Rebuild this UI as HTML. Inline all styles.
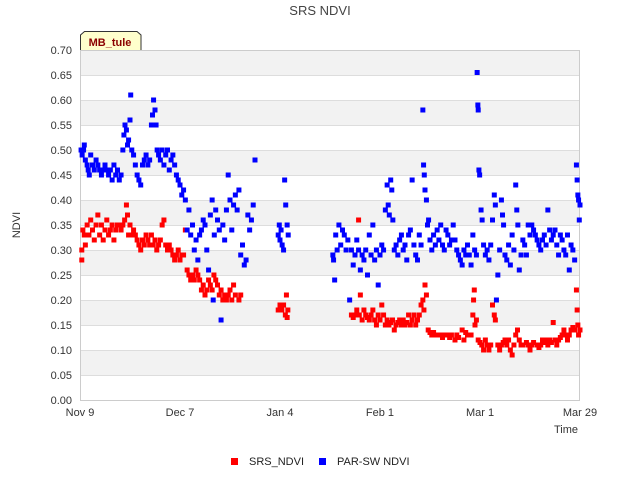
<!DOCTYPE html>
<html><head><meta charset="utf-8"><style>
body{margin:0;background:#fff;font-family:"Liberation Sans",sans-serif}
svg{display:block}
</style></head><body>
<svg id="chart" width="640" height="480" xmlns="http://www.w3.org/2000/svg">
<rect width="640" height="480" fill="#fff"/>
<g id="grid"></g>
<g id="axes"></g>
<g id="red"></g>
<g id="blue"></g>
<text x="320" y="15" text-anchor="middle" font-size="13" fill="#444">SRS NDVI</text>
<text x="20" y="225" text-anchor="middle" font-size="11" fill="#333" transform="rotate(-90 20 225)">NDVI</text>
<text x="566" y="433" text-anchor="middle" font-size="11" fill="#333">Time</text>
<g>
<path d="M80.5,50 L80.5,35 L84.5,31.5 L137,31.5 L141,35 L141,50" fill="#ffffcc" stroke="#333" stroke-width="1"/>
<text x="110" y="46" text-anchor="middle" font-size="11" font-weight="bold" fill="#8b0000">MB_tule</text>
</g>
<g>
<g><rect x="231" y="458" width="7" height="7" fill="#f00"/><text x="249" y="465" font-size="11" fill="#222">SRS_NDVI</text></g>
<g><rect x="319" y="458" width="7" height="7" fill="#00f"/><text x="337" y="465" font-size="11" fill="#222">PAR-SW NDVI</text></g>
</g>
</svg>
<script>
const yTicks=[0,0.05,0.1,0.15,0.2,0.25,0.3,0.35,0.4,0.45,0.5,0.55,0.6,0.65,0.7];
const xTickDays=[0,28,56,84,112,140];
const xTickLabels=["Nov 9","Dec 7","Jan 4","Feb 1","Mar 1","Mar 29"];
const srsDays=[0.5,0.5,0.8,1.2,1.5,2,2.5,3,3.5,4,4.5,5,5.5,6,6.5,7,7.5,8,8.5,9,9.5,10,10.5,11,11.5,12,12.5,13,13.3,13.6,14,14.5,15,15.5,16,16.5,17,17.5,18,18.5,19,19.5,20,20.5,21,21.5,22,22.5,23,23.5,24,24.5,25,25.5,26,26.5,27,27.5,28,28.5,29,29.5,30,30.5,31,31.5,32,32.5,33,33.5,34,34.5,35,35.5,36,36.5,37,37.5,38,38.5,39,39.5,40,40.5,41,41.5,42,42.5,43,43.5,44.5,45,55.5,56,56.5,57,57.5,57.8,58,58.2,76,76.5,77,77.5,78,78.2,78.5,79,79.5,80,80.5,81,81.5,82,82.5,83,83.5,84,84.5,85,85.5,86,86.5,87,87.5,88,88.5,89,89.5,90,90.5,91,91.5,92,92.5,93,93.5,94,94.5,95,95.5,96,96.3,96.6,97,97.5,98,98.5,99,99.5,100,101,101.5,102,103,103.5,104,105,105.5,106,107,107.5,108,108.5,109.5,110,110.2,110.4,110.6,111,111.5,112,112.5,113,113.5,114,114.5,115,115.5,116,116.3,117,117.5,118,118.5,119,119.5,120,120.5,121,121.5,122,122.5,123,123.5,124,125,125.5,126,126.5,127,128,128.5,129,129.5,130,130.5,131,131.5,132,132.5,133,133.5,134,134.5,135,135.5,136,136.5,137,137.5,138,138.5,139,139.2,139.4,139.6,140];
const srsValues=[.30,.28,.34,.33,.31,.35,.33,.36,.34,.32,.35,.37,.33,.35,.32,.34,.36,.33,.34,.35,.32,.34,.35,.35,.34,.35,.36,.39,.37,.33,.35,.33,.34,.33,.32,.31,.30,.32,.31,.33,.32,.31,.33,.31,.32,.30,.31,.32,.35,.36,.31,.30,.31,.30,.29,.28,.29,.30,.28,.29,.29,.34,.26,.25,.24,.25,.24,.26,.25,.24,.22,.23,.21,.22,.24,.23,.22,.25,.24,.23,.21,.22,.20,.21,.20,.21,.22,.20,.23,.21,.20,.21,.18,.19,.18,.19,.17,.21,.165,.18,.17,.165,.17,.18,.36,.17,.21,.16,.18,.17,.165,.16,.17,.18,.16,.15,.17,.16,.19,.17,.15,.16,.15,.155,.16,.14,.15,.155,.16,.15,.16,.15,.155,.17,.15,.16,.17,.15,.16,.17,.19,.20,.18,.23,.21,.14,.135,.13,.135,.13,.13,.13,.125,.13,.13,.125,.13,.12,.13,.125,.14,.12,.135,.13,.13,.17,.20,.22,.15,.16,.12,.115,.11,.10,.12,.11,.10,.11,.19,.17,.16,.11,.10,.11,.115,.12,.11,.12,.10,.09,.11,.13,.14,.12,.11,.11,.115,.11,.10,.11,.115,.11,.105,.11,.12,.115,.12,.11,.12,.115,.155,.12,.11,.12,.125,.13,.14,.13,.12,.13,.14,.145,.14,.22,.18,.15,.13,.14];
const parDays=[0.3,0.6,1,1.2,1.5,2,2.3,2.6,3,3.5,4,4.5,5,5.5,6,6.5,7,7.5,8,8.5,9,9.5,10,10.5,11,11.5,12,12.3,12.6,13,13.3,13.6,14,14.2,14.5,15,15.5,16,16.5,17,17.5,18,18.5,19,19.5,20,20.3,20.6,21,21.3,21.6,22,22.5,23,23.5,24,24.5,25,25.5,26,26.5,27,27.5,28,28.5,29,29.5,30,30.5,31,31.5,32,32.5,33,33.5,34,34.5,35,35.5,36,36.5,37,37.3,37.6,38,38.5,39,39.5,40,40.5,41,41.5,42,42.5,43,43.5,44,44.5,45,45.5,46,46.5,47,47.5,48,48.5,49,55.5,55.8,56,56.3,56.6,57,57.3,57.6,58,58.3,70.8,71,71.3,71.6,72,72.5,73,73.5,74,74.5,75,75.5,76,76.5,77,77.5,78,78.5,79,79.5,80,80.5,81,81.5,82,82.5,83,83.5,84,84.5,85,85.5,86,86.3,86.6,87,87.3,87.6,88,88.5,89,89.5,90,90.5,91,91.5,92,92.5,93,93.5,94,94.5,95,95.5,96,96.2,96.4,96.6,97,97.3,97.6,98,98.5,99,99.5,100,100.5,101,101.5,102,102.5,103,103.5,104,104.5,105,105.5,106,106.5,107,107.5,108,108.5,109,109.5,110,110.5,111,111.2,111.4,111.5,111.7,111.9,112.3,112.6,113,113.5,114,114.5,115,115.5,116,116.3,116.6,117,117.5,118,118.3,118.6,119,119.5,120,120.5,121,121.5,122,122.3,122.6,123,123.5,124,124.5,125,125.5,126,126.5,127,127.5,128,128.5,129,129.5,130,130.5,131,131.5,132,132.5,133,133.5,134,134.5,135,135.5,136,136.5,137,137.5,138,138.5,139,139.2,139.4,139.6,139.8,140];
const parValues=[.50,.49,.50,.51,.48,.47,.46,.45,.49,.47,.46,.48,.47,.46,.45,.46,.47,.46,.45,.46,.44,.47,.45,.46,.44,.45,.50,.53,.55,.54,.51,.52,.56,.61,.50,.49,.47,.45,.44,.43,.47,.48,.49,.47,.48,.55,.57,.60,.58,.55,.50,.49,.48,.50,.47,.49,.50,.46,.48,.49,.47,.45,.44,.43,.41,.42,.40,.34,.38,.33,.35,.30,.32,.28,.33,.34,.36,.35,.30,.26,.37,.40,.20,.33,.38,.36,.34,.16,.35,.32,.38,.45,.40,.34,.39,.41,.38,.42,.29,.31,.27,.28,.37,.34,.36,.39,.48,.33,.35,.32,.34,.31,.30,.44,.39,.35,.33,.29,.28,.24,.33,.30,.35,.31,.34,.33,.30,.32,.20,.30,.27,.29,.32,.30,.26,.29,.28,.30,.25,.33,.29,.35,.28,.30,.23,.29,.31,.30,.38,.43,.39,.37,.44,.42,.36,.30,.31,.29,.32,.33,.30,.31,.28,.33,.34,.44,.31,.29,.28,.33,.31,.58,.47,.45,.42,.40,.35,.36,.32,.30,.33,.31,.34,.32,.35,.31,.30,.34,.33,.31,.32,.35,.32,.30,.29,.28,.27,.30,.29,.31,.29,.27,.33,.30,.29,.655,.59,.58,.46,.45,.38,.36,.31,.29,.30,.28,.31,.36,.41,.39,.20,.25,.30,.40,.37,.35,.29,.28,.31,.27,.33,.30,.43,.38,.35,.26,.29,.32,.31,.29,.35,.33,.35,.34,.33,.32,.31,.30,.32,.33,.31,.38,.34,.32,.33,.34,.31,.29,.33,.32,.30,.29,.33,.26,.31,.30,.28,.47,.44,.41,.40,.36,.39];
const NS="http://www.w3.org/2000/svg";
const L=80,R=580,T=50,B=400;
function xs(d){return L+d*(R-L)/140;}
function ys(v){return B-v*(B-T)/0.7;}
const grid=document.getElementById('grid'),axes=document.getElementById('axes');
for(let i=0;i<yTicks.length-1;i++){
  if(i%2===1){
    const r=document.createElementNS(NS,'rect');
    
    
    r.setAttribute('x',L);r.setAttribute('y',ys(yTicks[i+1]));r.setAttribute('width',R-L);r.setAttribute('height',ys(yTicks[i])-ys(yTicks[i+1]));r.setAttribute('fill','#f2f2f2');
    grid.appendChild(r);
  }
}
yTicks.forEach(v=>{
  const l=document.createElementNS(NS,'line');
  
  
  l.setAttribute('x1',L);l.setAttribute('x2',R);l.setAttribute('y1',ys(v)+0.5);l.setAttribute('y2',ys(v)+0.5);l.setAttribute('stroke','#ddd');
  grid.appendChild(l);
  const t=document.createElementNS(NS,'text');
  
  
  t.setAttribute('x',L-8);t.setAttribute('y',ys(v)+4);t.setAttribute('text-anchor','end');t.setAttribute('font-size','11');t.setAttribute('fill','#333');
  t.textContent=v.toFixed(2);axes.appendChild(t);
});
const fr=document.createElementNS(NS,'rect');


fr.setAttribute('x',L+0.5);fr.setAttribute('y',T+0.5);fr.setAttribute('width',R-L-1);fr.setAttribute('height',B-T);fr.setAttribute('fill','none');fr.setAttribute('stroke','#ccc');
axes.appendChild(fr);
xTickDays.forEach((d,i)=>{
  const t=document.createElementNS(NS,'text');
  
  
  t.setAttribute('x',xs(d));t.setAttribute('y',416);t.setAttribute('text-anchor','middle');t.setAttribute('font-size','11');t.setAttribute('fill','#333');
  t.textContent=xTickLabels[i];axes.appendChild(t);
});
function plot(g,days,vals,color,name){
  for(let i=0;i<days.length;i++){
    const r=document.createElementNS(NS,'rect');
    
    
    r.setAttribute('x',xs(days[i])-2.5);r.setAttribute('y',ys(vals[i])-2.5);r.setAttribute('width',5);r.setAttribute('height',5);r.setAttribute('fill',color);
    g.appendChild(r);
  }
}
plot(document.getElementById('red'),srsDays,srsValues,'#f00','srs-point');
plot(document.getElementById('blue'),parDays,parValues,'#00f','par-sw-point');
</script>
</body></html>
